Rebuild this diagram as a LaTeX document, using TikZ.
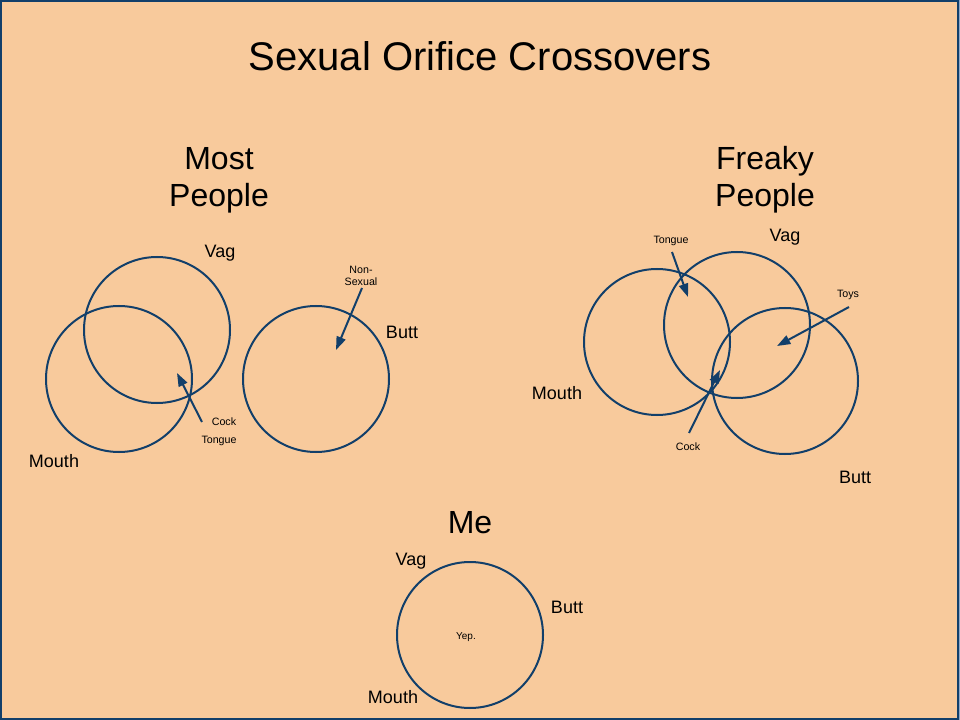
\documentclass[tikz,border=0pt]{standalone}
\usepackage{fontspec}
\setmainfont{Liberation Sans}
\usetikzlibrary{arrows.meta}
\definecolor{peach}{HTML}{F8CA9C}
\definecolor{navy}{HTML}{123F6A}
\definecolor{edgeblue}{HTML}{8FA8C8}
\tikzset{
  ring/.style={circle, draw=navy, line width=1.5pt, inner sep=0pt, minimum size=109.5pt},
  pointer/.style={draw=navy, line width=1.5pt, -{Triangle[length=10pt,width=7pt]}},
  titletext/.style={font=\fontsize{30}{36}\selectfont, align=center},
  headtext/.style={font=\fontsize{24}{27.6}\selectfont, align=center},
  labeltext/.style={font=\fontsize{13.5}{16}\selectfont},
  smalltext/.style={font=\fontsize{8}{9.5}\selectfont, align=center},
}
\begin{document}
\begin{tikzpicture}[x=0.75pt, y=-0.75pt]
\useasboundingbox (0,0) rectangle (960,720);
\fill[peach] (0,0) rectangle (960,720);
\fill[edgeblue] (958.5,0) rectangle (960,720);
\draw[navy, line width=1.5pt] (1,1) rectangle (958,719);

% title
\node[titletext] (title) at (480,56) {Sexual Orifice Crossovers};

% Most People
\node[headtext] (mostp) at (219,180) {Most\\People};
\node[ring] (mvag) at (157,330) {};
\node[ring] (mmouth) at (119,379) {};
\node[ring] (mbutt) at (316,379) {};
\node[labeltext] (mvagl) at (220,253) {Vag};
\node[labeltext] (mmouthl) at (54,461) {Mouth};
\node[labeltext] (mbuttl) at (402,332) {Butt};
\node[smalltext] (mcock) at (224,422) {Cock};
\node[smalltext] (mtongue) at (219,441) {Tongue};
\node[smalltext] (mnonsex) at (361,276) {Non-\\Sexual};
\coordinate (mcockt) at (202,422);
\coordinate (mcockh) at (177,373);
\coordinate (mnst) at (362,288);
\coordinate (mnsh) at (336,350);
\draw[pointer] (mcockt) -- (mcockh);
\draw[pointer] (mnst) -- (mnsh);

% Freaky People
\node[headtext] (freakp) at (765,180) {Freaky\\People};
\node[ring] (fmouth) at (657,342) {};
\node[ring] (fvag) at (737,325) {};
\node[ring] (fbutt) at (785,381) {};
\node[labeltext] (fvagl) at (785,237) {Vag};
\node[labeltext] (fmouthl) at (557,393) {Mouth};
\node[labeltext] (fbuttl) at (855,477) {Butt};
\node[smalltext] (ftongue) at (671,241) {Tongue};
\node[smalltext] (ftoys) at (848,295) {Toys};
\node[smalltext] (fcock) at (688,447) {Cock};
\coordinate (ftt) at (672,252);
\coordinate (fth) at (688,297);
\coordinate (fyt) at (849,307);
\coordinate (fyh) at (777,346);
\coordinate (fct) at (689,433);
\coordinate (fch) at (720,370);
\draw[pointer] (ftt) -- (fth);
\draw[pointer] (fyt) -- (fyh);
\draw[pointer] (fct) -- (fch);

% Me
\node[headtext] (me) at (470,523) {Me};
\node[ring] (mering) at (470,635) {};
\node[labeltext] (evag) at (411,561) {Vag};
\node[labeltext] (ebutt) at (567,607) {Butt};
\node[labeltext] (emouth) at (393,697) {Mouth};
\node[font=\fontsize{7.5}{9}\selectfont] (yep) at (466,637) {Yep.};
\end{tikzpicture}
\end{document}
